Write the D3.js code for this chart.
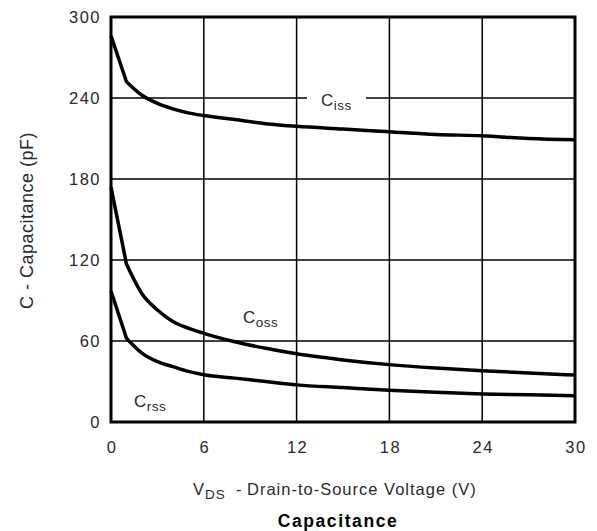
<!DOCTYPE html>
<html>
<head>
<meta charset="utf-8">
<script src="https://cdn.jsdelivr.net/npm/d3@7"></script>
<style>
  body { margin: 0; background: #fff; }
  text { font-family: Arial, "Liberation Sans", sans-serif; fill: #2a2a2a; }
</style>
</head>
<body>
<div id="chart"></div>
<script>
var width = 597,
    height = 531;

var margin = {left: 111, top: 17, right: 22, bottom: 109};

// data (V, pF)
var vds  = [0, 1, 2, 3, 4, 5, 6, 8, 10, 12, 15, 18, 21, 24, 27, 30];
var ciss = [286, 252, 242, 236, 232, 229, 227, 224, 221, 219, 217, 215, 213, 212, 210, 209];
var coss = [174, 117, 95, 83, 74.5, 69.5, 65.7, 59.5, 54.6, 50.5, 46, 42.5, 40, 38, 36.3, 34.8];
var crss = [97, 62, 51, 44.7, 41, 37.5, 35, 32.5, 30, 27.5, 25.5, 23.5, 22, 20.8, 20.2, 19.5];

var xTicks = [0, 6, 12, 18, 24, 30];
var yTicks = [0, 60, 120, 180, 240, 300];

var svg = d3.select("#chart")
    .append("svg")
    .attr("width", width)
    .attr("height", height);

var x = d3.scaleLinear().domain([0, 30]).range([margin.left, width - margin.right]);
var y = d3.scaleLinear().domain([0, 300]).range([height - margin.bottom, margin.top]);

/* grid */
svg.append("g")
    .selectAll("line")
    .data(xTicks)
    .enter().append("line")
    .attr("x1", function(d) { return x(d); })
    .attr("x2", function(d) { return x(d); })
    .attr("y1", y(0))
    .attr("y2", y(300))
    .attr("stroke", "#000")
    .attr("stroke-width", 1.5);

svg.append("g")
    .selectAll("line")
    .data(yTicks)
    .enter().append("line")
    .attr("x1", x(0))
    .attr("x2", x(30))
    .attr("y1", function(d) { return y(d); })
    .attr("y2", function(d) { return y(d); })
    .attr("stroke", "#000")
    .attr("stroke-width", 1.5);

/* tick labels */
svg.append("g")
    .selectAll("text")
    .data(xTicks)
    .enter().append("text")
    .attr("x", function(d) { return x(d) + 1; })
    .attr("y", y(0) + 31)
    .attr("text-anchor", "middle")
    .style("font-size", "16.5px")
    .style("letter-spacing", "1.5px")
    .text(function(d) { return d; });

svg.append("g")
    .selectAll("text")
    .data(yTicks)
    .enter().append("text")
    .attr("x", x(0) - 10)
    .attr("y", function(d) { return y(d) + 6; })
    .attr("text-anchor", "end")
    .style("font-size", "16.5px")
    .style("letter-spacing", "1.5px")
    .text(function(d) { return d; });

/* curves: straight first step, smooth after 1 V */
var steep = d3.line()
    .x(function(d) { return x(d[0]); })
    .y(function(d) { return y(d[1]); });
var smooth = d3.line()
    .x(function(d) { return x(d[0]); })
    .y(function(d) { return y(d[1]); })
    .curve(d3.curveMonotoneX);

[ciss, coss, crss].forEach(function(s) {
  var pts = vds.map(function(v, i) { return [v, s[i]]; });
  var d = steep(pts.slice(0, 2)) + smooth(pts.slice(1)).replace(/^M[^A-Za-z]*/, "");
  svg.append("path")
      .attr("d", d)
      .attr("fill", "none")
      .attr("stroke", "#000")
      .attr("stroke-width", 3.5)
      .attr("stroke-linejoin", "round");
});

/* frame */
svg.append("rect")
    .attr("x", x(0))
    .attr("y", y(300))
    .attr("width", x(30) - x(0))
    .attr("height", y(0) - y(300))
    .attr("fill", "none")
    .attr("stroke", "#000")
    .attr("stroke-width", 3);

/* curve labels */
svg.append("rect")
    .attr("x", 307)
    .attr("y", y(240) - 3)
    .attr("width", 59)
    .attr("height", 6)
    .attr("fill", "#fff");

function curveLabel(px, py, sub) {
  var t = svg.append("text")
      .attr("x", px)
      .attr("y", py)
      .style("font-size", "17px")
      .style("letter-spacing", "0.5px");
  t.append("tspan").text("C");
  t.append("tspan").attr("dy", 4).style("font-size", "13.5px").text(sub);
}
curveLabel(321, 106, "iss");
curveLabel(243, 323, "oss");
curveLabel(134, 407, "rss");

/* axis titles */
var xt = svg.append("text")
    .attr("x", 193)
    .attr("y", 495)
    .style("font-size", "16.5px")
    .style("letter-spacing", "1px");
xt.append("tspan").text("V");
xt.append("tspan").attr("dy", 4).style("font-size", "13.5px").text("DS");
xt.append("tspan").attr("dy", -4).attr("x", 236).text("-");
xt.append("tspan").attr("x", 247).text("Drain-to-Source Voltage (V)");

svg.append("text")
    .attr("transform", "translate(33," + ((y(0) + y(300)) / 2 + 1) + ") rotate(-90)")
    .attr("text-anchor", "middle")
    .style("font-size", "18px")
    .style("letter-spacing", "0.5px")
    .text("C - Capacitance (pF)");

svg.append("text")
    .attr("x", 338)
    .attr("y", 527)
    .attr("text-anchor", "middle")
    .style("font-size", "17.5px")
    .style("font-weight", "bold")
    .style("letter-spacing", "1.6px")
    .style("fill", "#000")
    .text("Capacitance");
</script>
</body>
</html>
